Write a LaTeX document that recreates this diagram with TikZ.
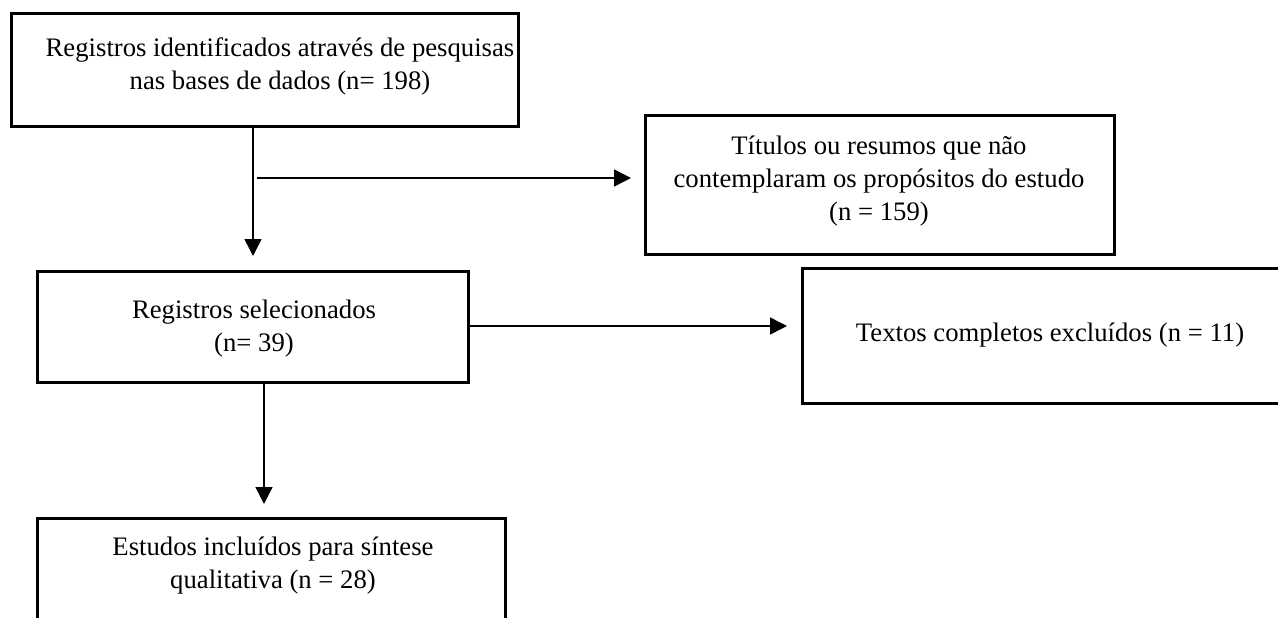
\documentclass[tikz,border=0pt]{standalone}
\usepackage{fontspec}
\setmainfont{Liberation Serif}
\usetikzlibrary{arrows.meta}
\begin{document}
\begin{tikzpicture}[x=1pt,y=-1pt,
  boxst/.style={draw=black, line width=3pt, rectangle, inner sep=0pt},
  txt/.style={inner sep=0pt, align=center, font=\fontsize{26.7}{33}\selectfont},
  conn/.style={draw=black, line width=1.5pt, -{Triangle[length=17pt,width=17pt]}}]
\useasboundingbox (0,0) rectangle (1278,618);
\clip (0,0) rectangle (1278,618);
% boxes
\node[boxst, minimum width=507pt, minimum height=113.5pt] (b1) at (264.5,70) {};
\node[boxst, minimum width=469pt, minimum height=139pt] (b2) at (879.5,184.5) {};
\node[boxst, minimum width=431pt, minimum height=111pt] (b3) at (252.5,326.5) {};
\node[boxst, minimum width=488pt, minimum height=135pt] (b4) at (1046,335.5) {};
\node[boxst, minimum width=468pt, minimum height=122pt] (b5) at (271,579) {};
% texts
\node[txt] (t1) at (280,66) {Registros identificados através de pesquisas\\nas bases de dados (n= 198)};
\node[txt] (t2) at (879,181) {Títulos ou resumos que não\\contemplaram os propósitos do estudo\\(n = 159)};
\node[txt] (t3) at (254,329) {Registros selecionados\\(n= 39)};
\node[txt] (t4) at (1050,335) {Textos completos excluídos (n = 11)};
\node[txt] (t5) at (273,566) {Estudos incluídos para síntese\\qualitativa (n = 28)};
% connector coordinates
\coordinate (s1) at (253,127);
\coordinate (e1) at (253,256);
\coordinate (s2) at (257,178);
\coordinate (e2) at (631,178);
\coordinate (s3) at (468,326);
\coordinate (e3) at (787,326);
\coordinate (s4) at (264,382);
\coordinate (e4) at (264,504);
\draw[conn] (s1) -- (e1);
\draw[conn] (s2) -- (e2);
\draw[conn] (s3) -- (e3);
\draw[conn] (s4) -- (e4);
\end{tikzpicture}
\end{document}
